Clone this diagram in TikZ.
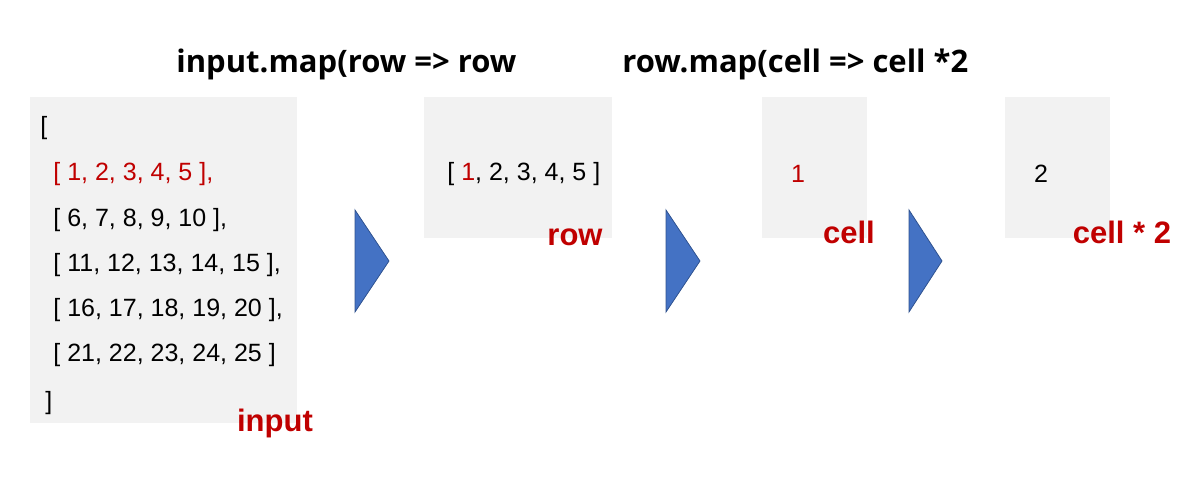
\documentclass[tikz,border=0pt]{standalone}
\usepackage{fontspec}
\setmainfont{Liberation Sans}
\newfontfamily\titlefont{Open Sans}
\usepackage{tikz}
\usetikzlibrary{positioning}
\definecolor{boxgray}{HTML}{F2F2F2}
\definecolor{darkred}{HTML}{C00000}
\definecolor{triblue}{HTML}{4472C4}
\definecolor{triedge}{HTML}{2F528F}
\tikzset{
  databox/.style = {rectangle, fill=boxgray, inner sep=0pt},
  listtext/.style = {anchor=west, inner sep=0pt, font=\fontsize{12.5}{15}\selectfont},
  maplabel/.style = {inner sep=0pt, text=darkred, font=\fontsize{15.5}{18}\selectfont\bfseries},
  maptitle/.style = {anchor=west, inner sep=0pt, font=\titlefont\bfseries\fontsize{15.5}{18}\selectfont},
  pointer/.style = {fill=triblue, draw=triedge, line width=0.4pt}
}
\begin{document}
\begin{tikzpicture}[x=0.5pt, y=-0.5pt]
    \useasboundingbox (0,0) rectangle (1200,480);
    % titles
    \node[maptitle] (title1) at (176,64) {input.map(row => row};
    \node[maptitle] (title2) at (622,64) {row.map(cell => cell *2};
    % grey boxes
    \node[databox, minimum width=133.5pt, minimum height=163pt] (inbox) at (163.5,260) {};
    \node[databox, minimum width=94pt, minimum height=70.5pt] (rowbox) at (518,167.5) {};
    \node[databox, minimum width=52.5pt, minimum height=70.5pt] (cellbox) at (814.5,167.5) {};
    \node[databox, minimum width=52.5pt, minimum height=70.5pt] (outbox) at (1057.5,167.5) {};
    % input array
    \node[listtext] (open) at (40,128) {[};
    \node[listtext, text=darkred] (row1) at (53,174) {[ 1, 2, 3, 4, 5 ],};
    \node[listtext] (row2) at (53,220) {[ 6, 7, 8, 9, 10 ],};
    \node[listtext] (row3) at (53,265) {[ 11, 12, 13, 14, 15 ],};
    \node[listtext] (row4) at (53,310) {[ 16, 17, 18, 19, 20 ],};
    \node[listtext] (row5) at (53,355) {[ 21, 22, 23, 24, 25 ]};
    \node[listtext] (close) at (45,403) {]};
    % one row, one cell
    \node[listtext] (onerow) at (447,174) {[ \textcolor{darkred}{1}, 2, 3, 4, 5 ]};
    \node[listtext, anchor=center, text=darkred] (onecell) at (798,174) {1};
    \node[listtext, anchor=center] (doubled) at (1041,174) {2};
    % labels
    \node[maplabel] (inlabel) at (275,423) {input};
    \node[maplabel] (rowlabel) at (575,237) {row};
    \node[maplabel] (celllabel) at (849,232) {cell};
    \node[maplabel] (outlabel) at (1122,232) {cell * 2};
    % pointers
    \draw[pointer] (355,210) -- (355,312) -- (389,261) -- cycle;
    \draw[pointer] (666,210) -- (666,312) -- (700,261) -- cycle;
    \draw[pointer] (909,210) -- (909,312) -- (942,261) -- cycle;
\end{tikzpicture}
\end{document}
